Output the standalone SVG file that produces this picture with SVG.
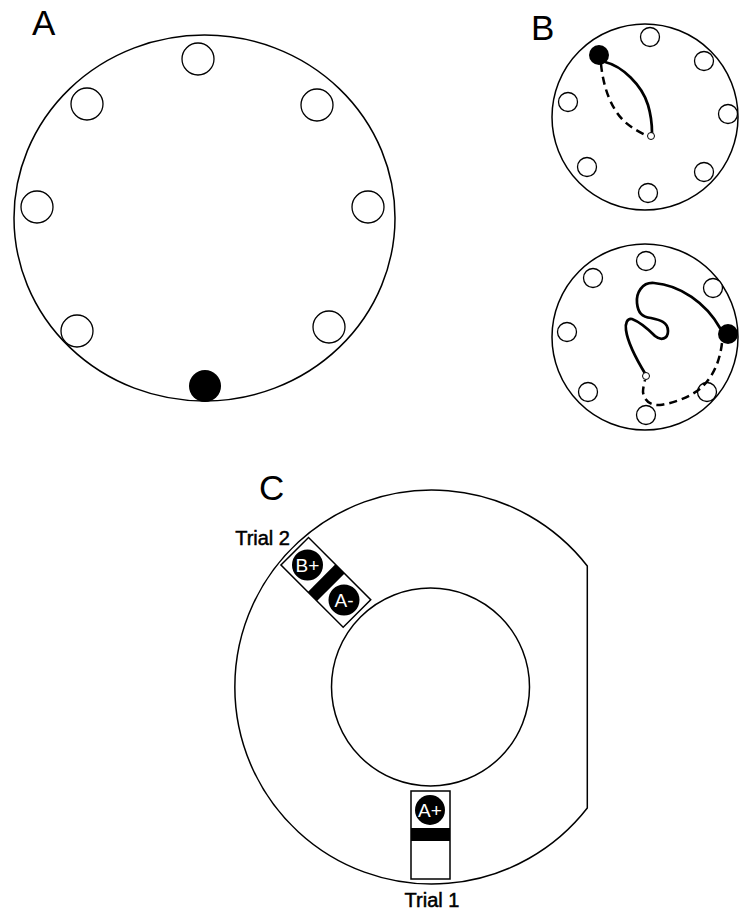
<svg xmlns="http://www.w3.org/2000/svg" width="740" height="911" viewBox="0 0 740 911">
<style>
.bg{fill:#fff}
.ring{fill:#fff;stroke:#000;stroke-width:1.5}
.hole{fill:#fff;stroke:#000;stroke-width:1.3}
.goal{fill:#000}
.start{fill:#fff;stroke:#000;stroke-width:1}
.lbl{font-family:"Liberation Sans",Arial,sans-serif;fill:#000}
.panel{font-size:35px}
.trial{font-size:20px;stroke:#000;stroke-width:0.5}
.cue{font-family:"Liberation Sans",Arial,sans-serif;font-size:19px;fill:#fff;text-anchor:middle}
.solid{fill:none;stroke:#000;stroke-width:2.7;stroke-linecap:round;stroke-linejoin:round}
.dash{fill:none;stroke:#000;stroke-width:2.5;stroke-dasharray:8 5}
.box{fill:#fff;stroke:#000;stroke-width:1.5}
</style>
<rect class="bg" x="0" y="0" width="740" height="911"/>

<!-- Panel A -->
<g id="panelA">
  <text class="lbl panel" x="32" y="35">A</text>
  <ellipse id="A-arena" class="ring" cx="204.5" cy="218" rx="190.5" ry="183"/>
  <g id="A-holes">
    <circle class="hole" cx="198" cy="59" r="16"/>
    <circle class="hole" cx="87" cy="104" r="16"/>
    <circle class="hole" cx="317" cy="105" r="16"/>
    <circle class="hole" cx="37" cy="207" r="16"/>
    <circle class="hole" cx="368" cy="207" r="16"/>
    <circle class="hole" cx="77" cy="331" r="16"/>
    <circle class="hole" cx="329" cy="327" r="16"/>
    <circle id="A-goal" class="goal" cx="205" cy="386" r="16"/>
  </g>
</g>

<!-- Panel B -->
<g id="panelB">
  <text class="lbl panel" x="531" y="40">B</text>
  <g id="B-top">
    <circle class="ring" cx="645" cy="117" r="93"/>
    <circle class="hole" cx="650" cy="37" r="9.5"/>
    <circle class="hole" cx="704" cy="61" r="9.5"/>
    <circle class="hole" cx="728" cy="114" r="9.5"/>
    <circle class="hole" cx="704" cy="172" r="9.5"/>
    <circle class="hole" cx="648" cy="193" r="9.5"/>
    <circle class="hole" cx="587" cy="167" r="9.5"/>
    <circle class="hole" cx="568" cy="102" r="9.5"/>
    <path class="solid" d="M 605,62 C 622,66 642,85 648,105 C 651,115 652,125 652,133"/>
    <path class="dash" d="M 601,64 C 603,85 610,108 625,122 C 633,129 641,133 648,136"/>
    <circle class="goal" cx="599" cy="55" r="10"/>
    <circle class="start" cx="651" cy="136" r="3.5"/>
  </g>
  <g id="B-bottom">
    <circle class="ring" cx="645" cy="337" r="93"/>
    <circle class="hole" cx="646" cy="261" r="9.5"/>
    <circle class="hole" cx="593" cy="278" r="9.5"/>
    <circle class="hole" cx="713" cy="288" r="9.5"/>
    <circle class="hole" cx="567" cy="332" r="9.5"/>
    <circle class="hole" cx="588" cy="392" r="9.5"/>
    <circle class="hole" cx="707" cy="392" r="9.5"/>
    <circle class="hole" cx="646" cy="415" r="9.5"/>
    <path class="solid" d="M 720,328 C 706,303 680,285 654,283 C 642,282 636,293 637,303 C 638,313 642,317 651,318 C 660,320 668,322 668,331 C 668,339 661,341 655,336 C 650,331 640,322 632,319 C 627,318 625,324 626,330 C 628,345 638,362 646,375"/>
    <path class="dash" d="M 722,343 C 720,360 714,375 703,386 C 693,396 675,403 660,405 C 650,406 644,400 643,392 C 643,388 644,384 645,380"/>
    <circle class="goal" cx="728" cy="334" r="10"/>
    <circle class="start" cx="646" cy="376" r="3.5"/>
  </g>
</g>

<!-- Panel C -->
<g id="panelC">
  <text class="lbl panel" x="259" y="500">C</text>
  <path id="C-outer" class="ring" d="M 587.3,566 A 197 197 0 1 0 587.3,808 Z"/>
  <circle id="C-inner" class="ring" cx="430.5" cy="687" r="99"/>
  <g id="trial1">
    <rect class="box" x="411" y="791" width="39" height="88"/>
    <rect class="goal" x="411" y="828" width="39" height="13"/>
    <circle class="goal" cx="430" cy="810" r="15"/>
    <text class="cue" x="430" y="817">A+</text>
    <text class="lbl trial" x="432" y="907" text-anchor="middle">Trial 1</text>
  </g>
  <g id="trial2">
    <g transform="rotate(135 430.5 687)">
      <rect class="box" x="411" y="791" width="39" height="88"/>
      <rect class="goal" x="411" y="828" width="39" height="13"/>
    </g>
    <circle class="goal" cx="344" cy="600" r="15.5"/>
    <circle class="goal" cx="307.5" cy="565" r="15.5"/>
    <text class="cue" x="307.5" y="572">B+</text>
    <text class="cue" x="344" y="607">A-</text>
    <text class="lbl trial" x="290" y="545" text-anchor="end">Trial 2</text>
  </g>
</g>
</svg>
